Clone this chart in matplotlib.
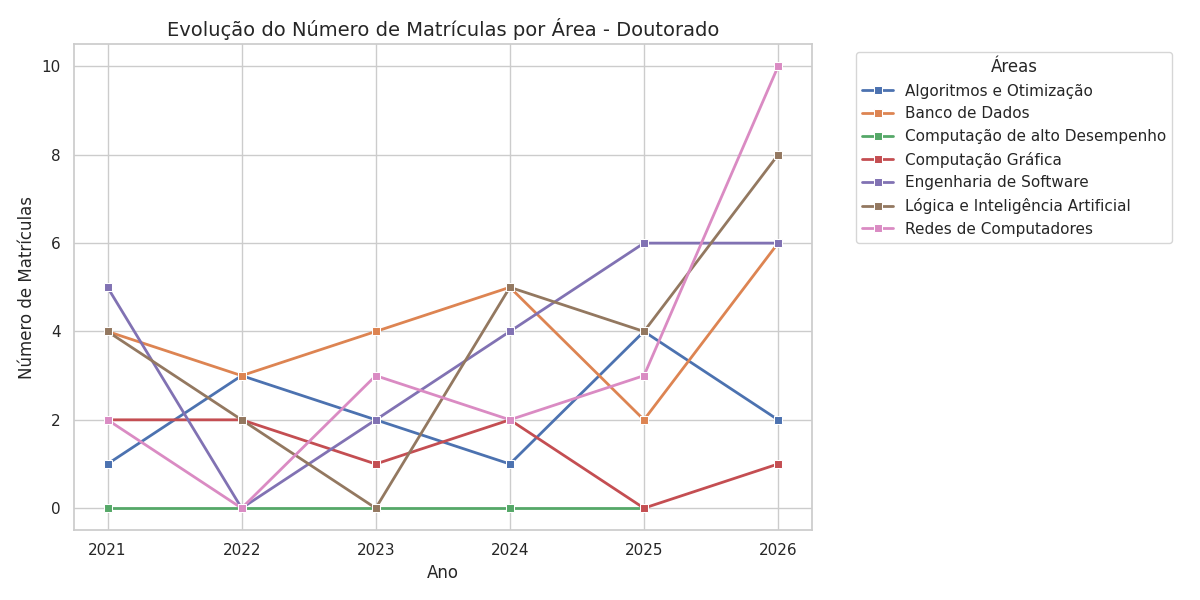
import matplotlib
matplotlib.use('Agg')
import matplotlib.pyplot as plt
import numpy as np
import seaborn as sns

anos = [2021, 2022, 2023, 2024, 2025, 2026]

algoritmos = [1, 3, 2, 1, 4, 2]
banco_dados = [4, 3, 4, 5, 2, 6]
alto_desempenho = [0, 0, 0, 0, 0, np.nan]
comp_grafica = [2, 2, 1, 2, 0, 1]
eng_software = [5, 0, 2, 4, 6, 6]
logica_ia = [4, 2, 0, 5, 4, 8]
redes = [2, 0, 3, 2, 3, 10]

areas = {
    'Algoritmos e Otimização': algoritmos,
    'Banco de Dados': banco_dados,
    'Computação de alto Desempenho': alto_desempenho,
    'Computação Gráfica': comp_grafica,
    'Engenharia de Software': eng_software,
    'Lógica e Inteligência Artificial': logica_ia,
    'Redes de Computadores': redes,
}

sns.set_theme(style='whitegrid')
cores = sns.color_palette('deep')

fig, ax = plt.subplots(figsize=(12, 6), dpi=100)

for i, (nome, valores) in enumerate(areas.items()):
    ax.plot(anos, valores, marker='s', markersize=6, linewidth=2,
            color=cores[i], markeredgecolor='white', markeredgewidth=0.75,
            label=nome)

ax.set_title('Evolução do Número de Matrículas por Área - Doutorado', fontsize=14)
ax.set_xlabel('Ano')
ax.set_ylabel('Número de Matrículas')
ax.set_xticks(anos)
ax.legend(title='Áreas', bbox_to_anchor=(1.05, 1), loc='upper left')

plt.tight_layout()
fig.savefig('out.png')
plt.close(fig)
